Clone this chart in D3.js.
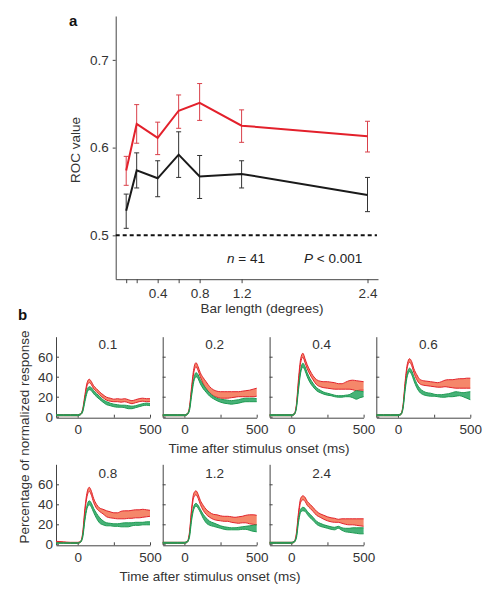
<!DOCTYPE html>
<html>
<head>
<meta charset="utf-8">
<script src="https://cdn.jsdelivr.net/npm/d3@7"></script>
<style>
  html, body { margin: 0; padding: 0; background: #fff; }
  svg { display: block; font-family: "Liberation Sans", Arial, sans-serif; }
  .axis path, .axis line { stroke: #444; stroke-width: 1; }
  .axis text { fill: #333; font-size: 13.5px; font-family: "Liberation Sans", Arial, sans-serif; }
</style>
</head>
<body>
<svg id="chart" width="493" height="600"></svg>
<script>
// ---------- Panel a data ----------
const barLengths = [0.1, 0.2, 0.4, 0.6, 0.8, 1.2, 2.4];
const xTickLabelsA = [0.4, 0.8, 1.2, 2.4];
const yTicksA = [0.5, 0.6, 0.7];
const rocRed     = [0.574, 0.627, 0.611, 0.642, 0.651, 0.625, 0.613];
const rocRedLo   = [0.557, 0.605, 0.592, 0.622, 0.631, 0.606, 0.595];
const rocRedHi   = [0.590, 0.649, 0.629, 0.660, 0.673, 0.643, 0.630];
const rocBlack   = [0.528, 0.574, 0.565, 0.592, 0.567, 0.570, 0.546];
const rocBlackLo = [0.508, 0.554, 0.544, 0.566, 0.542, 0.554, 0.527];
const rocBlackHi = [0.547, 0.594, 0.585, 0.618, 0.591, 0.585, 0.566];
const chanceLevel = 0.5;

// ---------- Panel b data ----------
const panelLabels = ["0.1", "0.2", "0.4", "0.6", "0.8", "1.2", "2.4"];
const timeMs = [-150,-100,-50,0,20,35,50,65,80,95,110,130,150,175,200,225,250,275,300,325,350,375,400,425,450,475,500];
const xTicksB = [0, 250, 500];
const yTicksB = [0, 20, 40, 60];

const redHi = [
  [2,2,2,2,3,8,22,34,37.5,35,31,28,25,22,19.5,18.5,17.5,18,17.5,18,17,16,17,18,18.5,18,18],
  [2,2,2,2,3,10,30,48,54,50,44,39,35,30,27,25.5,25,25,25,25,25,25,25.5,26,26.5,27.5,28.5],
  [2,2,2,2,3,12,38,58,63.5,58,52,46,41,37,35.5,35,35,34.5,34,33,33,34.5,36,36.5,36,35.5,35],
  [2,2,2,2,3,12,36,53,58,55,48,42,37.5,36,35.5,35,34.5,34,35,36.5,37,37,37.5,38,38,38.5,38.5],
  [3,2.5,2,2,3,12,36,52,57,53,46,40,36.5,35,33.5,32.5,31.5,31.5,33,33.5,33.5,34,34.5,34.5,35,34.5,34],
  [2,2,2,2,3,12,36,51,53.5,50,44,39,35,32,30,29.5,28.5,28,28,27.5,27,27.5,28,29,29.5,29.5,29],
  [2,2,2,2,3,11,32,46,48.5,47,43,40,37,33,30.5,29,27.5,26.5,26,25,25.5,25.5,25.5,25.5,25.5,25.5,25.5]
];
const redLo = [
  [1,1,1,1,2,6,19,31,34,32,28,25,22,19,16.5,15.5,15,15,14.5,15,14,13,14,15,15.5,15,15],
  [1,1,1,1,2,8,27,44,50,46,40,33,28,24,21,19.5,18.5,18.5,18.5,19,19.5,20,20,20,20,20,20.5],
  [1,1,1,1,2,10,34,54,59.5,54,48,42,37,32,30,29,28.5,28,27.5,27.5,27.5,27.5,27.5,27,26,26.5,26.5],
  [1,1,1,1,2,10,33,50,54.5,51,44,37,33,31.5,31,30.5,30,29.5,29.5,30,29.5,29,28.5,28.5,28.5,28.5,28.5],
  [2,1.5,1,1,2,10,33,48,53,49,42,36,33,30.5,27.5,26.5,26,25.5,25.5,25.5,26,26,26.5,26.5,27,27.5,28],
  [1,1,1,1,2,10,33,47,49.5,46,40,34,30,27,25,24,23.5,23,23,22,21.5,21,21.5,21.5,20.5,20,19.5],
  [1,1,1,1,2,9,29,42,44.5,43,39,36,33,29,27,25,23.5,22.5,22,22,21,20,19.5,19.5,19,18.5,18]
];
const greenHi = [
  [2,2,2,2,3,7,18,27,30,29,26,23,20.5,17,15,13.5,12.5,12,11.5,11.5,11,10.5,11,12,13,13.5,13],
  [2,2,2,2,3,8,24,38,44,42,37,32,28,23.5,20.5,18.5,17.5,17,16.5,16,16.5,17,18,18.5,18.5,18.5,18],
  [2,2,2,2,3,10,30,47,53.5,50,44,38,33.5,29,26.5,24.5,23.5,22.5,21.5,21,21,21.5,22,24,26,25.5,25],
  [2,2,2,2,3,10,30,44,48.5,46,40,33,28.5,25.5,24,23.5,22.5,22,22,22.5,23,24,25,24.5,24,24.5,25],
  [1.5,1.5,1.5,1.5,3,9,27,39,43.5,41,36,31,27,23.5,21.5,21,20.5,20.5,21,21.5,21.5,21.5,22,22,22,22.5,22.5],
  [2,2,2,2,3,9,27,38,41,39,35,30,26.5,23,21.5,20,18.5,17.5,17,16.5,16.5,17,17.5,18,18.5,19,19.5],
  [2,2,2,2,3,8,25,35,37,36,33,30,27,23,21,19.5,18.5,17.5,17,18,16.5,16,16,16.5,16.5,16.5,16.5]
];
const greenLo = [
  [1,1,1,1,2,5,15,24,27,26,23,20,17.5,14.5,12,11,10,9.5,9.5,9,8,8,9,10,11,11.5,11],
  [1,1,1,1,2,6,21,35,40,38,33,28,24.5,20.5,18,16,14.5,13.5,13,12.5,13,13.5,14.5,15,15,15,15],
  [1,1,1,1,2,8,27,44,49.5,46,40,34,30,26,24,22.5,21.5,21,20,19.5,19.5,20,20,19,17.5,19,20],
  [1,1,1,1,2,8,27,41,45,42,36,29,24.5,22,21,20.5,20.5,20,19.5,19.5,20,20,20.5,21,20,18.5,17],
  [1,1,1,1,2,7,24,36,39.5,37,32,26,21.5,19.5,18.5,18.5,18,18,17.5,17.5,17.5,18.5,19,19,19.5,19.5,19.5],
  [1,1,1,1,2,7,24,35,38,36,32,26,21.5,19,18,17,16,15,14.5,14.5,14.5,14.5,15,15,14,13,12.5],
  [1,1,1,1,2,6,22,32,33.5,33,30,26.5,24,20,18,17,16,15,14.5,16,14,12.5,12,11.5,11,10.5,10.5]
];

// ---------- Drawing ----------
const svg = d3.select("#chart");
const FS = 13.5;
const RED = "#e3202b", RED_BAR = "#d9404a", BLACK = "#1a1a1a";
const RED_FILL = "#f5876a", RED_EDGE = "#e2232c";
const GREEN_FILL = "#46b277", GREEN_EDGE = "#1e9a52";

// Panel a
const xA = d3.scaleLinear().domain([0, 2.5]).range([115.7, 378]);
const yA = d3.scaleLinear().domain([0.45, 0.75]).range([279.2, 16]);

svg.append("g").attr("class", "axis")
  .attr("transform", `translate(${xA(0)},0)`)
  .call(d3.axisLeft(yA).tickValues(yTicksA).tickSize(3).tickSizeOuter(0).tickPadding(4).tickFormat(d3.format(".1f")));

svg.append("g").attr("class", "axis")
  .attr("transform", `translate(0,${yA(0.45)})`)
  .call(d3.axisBottom(xA).tickValues(barLengths).tickSize(4).tickSizeOuter(0).tickPadding(5)
    .tickFormat(d => xTickLabelsA.includes(d) ? d3.format(".1f")(d) : ""));

svg.append("line")
  .attr("x1", xA(0)).attr("x2", xA(2.49))
  .attr("y1", yA(chanceLevel)).attr("y2", yA(chanceLevel))
  .attr("stroke", "#111").attr("stroke-width", 2).attr("stroke-dasharray", "4,3");

function drawSeries(vals, lo, hi, lineColor, barColor) {
  const g = svg.append("g");
  barLengths.forEach((b, i) => {
    const x = xA(b);
    g.append("line").attr("x1", x).attr("x2", x).attr("y1", yA(lo[i])).attr("y2", yA(hi[i]))
      .attr("stroke", barColor).attr("stroke-width", 1);
    [lo[i], hi[i]].forEach(v => {
      g.append("line").attr("x1", x - 2.5).attr("x2", x + 2.5).attr("y1", yA(v)).attr("y2", yA(v))
        .attr("stroke", barColor).attr("stroke-width", 1);
    });
  });
  g.append("path")
    .datum(vals)
    .attr("fill", "none").attr("stroke", lineColor).attr("stroke-width", 2)
    .attr("d", d3.line().x((d, i) => xA(barLengths[i])).y(d => yA(d)));
}
drawSeries(rocBlack, rocBlackLo, rocBlackHi, BLACK, "#333");
drawSeries(rocRed, rocRedLo, rocRedHi, RED, RED_BAR);

svg.append("text").attr("x", 227).attr("y", 263).attr("font-size", FS).attr("fill", "#222")
  .html('<tspan font-style="italic">n</tspan> = 41');
svg.append("text").attr("x", 304).attr("y", 263).attr("font-size", FS).attr("fill", "#222")
  .html('<tspan font-style="italic">P</tspan> &lt; 0.001');

svg.append("text").attr("transform", "translate(80,150) rotate(-90)")
  .attr("text-anchor", "middle").attr("font-size", FS).attr("fill", "#333").text("ROC value");
svg.append("text").attr("x", 262).attr("y", 313)
  .attr("text-anchor", "middle").attr("font-size", FS).attr("fill", "#333").text("Bar length (degrees)");
svg.append("text").attr("x", 69).attr("y", 26).attr("font-size", 15).attr("font-weight", "bold").attr("fill", "#111").text("a");
svg.append("text").attr("x", 18).attr("y", 320).attr("font-size", 15).attr("font-weight", "bold").attr("fill", "#111").text("b");

// Panel b
const panelW = 94;
const colLefts = [56, 162.7, 269.6, 376.3];
const rowZeros = [416.7, 544.3];

panelLabels.forEach((lab, p) => {
  const row = p < 4 ? 0 : 1;
  const col = p < 4 ? p : p - 4;
  const left = colLefts[col];
  const x = d3.scaleLinear().domain([-150, 500]).range([left, left + panelW]);
  const y = d3.scaleLinear().domain([0, 80]).range([rowZeros[row], rowZeros[row] - 80]);
  const g = svg.append("g");

  g.append("g").attr("class", "axis")
    .attr("transform", `translate(0,${y(0) + 1})`)
    .call(d3.axisBottom(x).tickValues(xTicksB).tickSize(-3).tickSizeOuter(0).tickPadding(7)
      .tickFormat(d => d === 250 ? "" : d));
  g.append("g").attr("class", "axis")
    .attr("transform", `translate(${left},0)`)
    .call(d3.axisLeft(y).tickValues(yTicksB).tickSize(-3).tickSizeOuter(0).tickPadding(3)
      .tickFormat(d => col === 0 ? d : ""));

  const area = (hi, lo) => d3.area().curve(d3.curveMonotoneX)
    .x((d, i) => x(timeMs[i])).y0((d, i) => y(lo[i])).y1(d => y(d));
  const line = d3.line().curve(d3.curveMonotoneX).x((d, i) => x(timeMs[i])).y(d => y(d));

  [[redHi[p], redLo[p], RED_FILL, RED_EDGE], [greenHi[p], greenLo[p], GREEN_FILL, GREEN_EDGE]]
    .forEach(([hi, lo, fill, edge]) => {
      g.append("path").datum(hi).attr("fill", fill).attr("d", area(hi, lo));
      g.append("path").datum(hi).attr("fill", "none").attr("stroke", edge).attr("stroke-width", 1).attr("d", line);
      g.append("path").datum(lo).attr("fill", "none").attr("stroke", edge).attr("stroke-width", 1).attr("d", line);
    });

  g.append("text").attr("x", left + 52).attr("y", row === 0 ? 349 : 478)
    .attr("text-anchor", "middle").attr("font-size", FS).attr("fill", "#333").text(lab);
});

svg.append("text").attr("x", 259).attr("y", 453)
  .attr("text-anchor", "middle").attr("font-size", FS).attr("fill", "#333").text("Time after stimulus onset (ms)");
svg.append("text").attr("x", 210).attr("y", 581)
  .attr("text-anchor", "middle").attr("font-size", FS).attr("fill", "#333").text("Time after stimulus onset (ms)");
svg.append("text").attr("transform", "translate(29,437) rotate(-90)")
  .attr("text-anchor", "middle").attr("font-size", FS).attr("fill", "#333").text("Percentage of normalized response");
</script>
</body>
</html>
